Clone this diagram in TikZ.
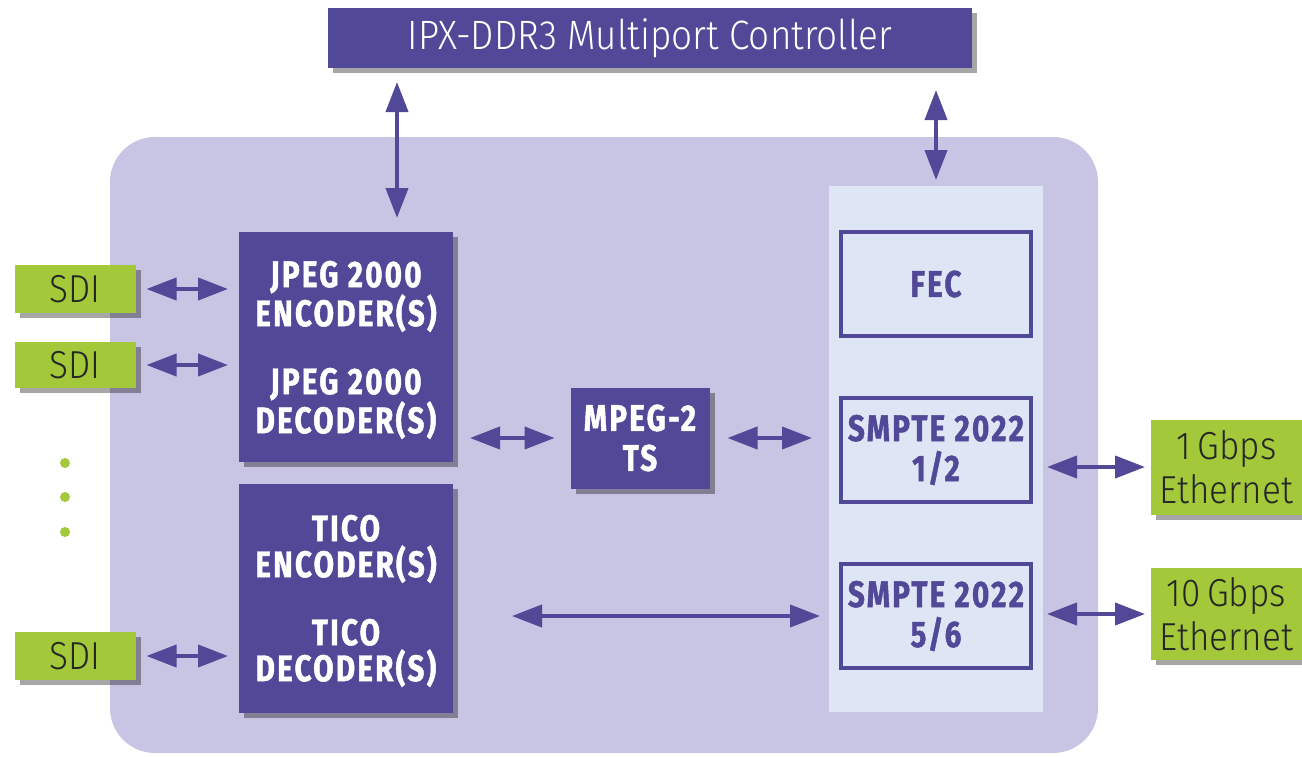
\documentclass[tikz,border=0pt]{standalone}
\usepackage{fontspec}
\usetikzlibrary{arrows.meta,shadows}
\newfontfamily\blockfont{Fira Sans Bold}[FakeStretch=0.8, FakeBold=1.2, LetterSpace=6]
\newfontfamily\thinfont{Fira Sans Light}[FakeStretch=0.9]
\definecolor{ipxpurple}{RGB}{81,72,152}
\definecolor{boardlilac}{RGB}{200,196,228}
\definecolor{panelblue}{RGB}{222,230,246}
\definecolor{portgreen}{RGB}{163,200,58}

\tikzset{
  every node/.style={outer sep=0pt, inner sep=0pt},
  boxshadow/.style={drop shadow={shadow xshift=5pt, shadow yshift=-5pt, fill=black, opacity=0.35}},
  core/.style={fill=ipxpurple, text=white, align=center, boxshadow,
    font=\blockfont\fontsize{37}{36}\selectfont},
  frame/.style={draw=ipxpurple, line width=3.5pt, text=ipxpurple, align=center,
    minimum width=190pt, minimum height=104pt,
    font=\blockfont\fontsize{37}{40}\selectfont},
  port/.style={fill=portgreen, text=black!85, align=center, boxshadow,
    font=\thinfont\fontsize{39}{44}\selectfont},
  link/.style={ipxpurple, line width=4pt,
    {Triangle[length=30pt,width=22pt]}-{Triangle[length=30pt,width=22pt]},
    shorten <=11pt, shorten >=11pt},
}

\begin{document}
\begin{tikzpicture}[x=1pt, y=-1pt]
  \useasboundingbox (0,0) rectangle (1302,756);

  % board and packet panel
  \node[fill=boardlilac, rounded corners=45pt, minimum width=988pt, minimum height=616pt] (board) at (604,445) {};
  \node[fill=panelblue, minimum width=214pt, minimum height=526pt] (panel) at (936,449) {};

  % memory controller
  \node[fill=ipxpurple, text=white, boxshadow, minimum width=644pt, minimum height=60pt,
    font=\thinfont\fontsize{41}{42}\selectfont] (ctrl) at (650,38) {IPX-DDR3 Multiport Controller};

  % codecs
  \node[core, minimum width=214pt, minimum height=230pt, text depth=-4pt] (jpeg) at (346,347)
    {JPEG 2000\\ENCODER(S)\\[32pt]JPEG 2000\\DECODER(S)};
  \node[core, minimum width=214pt, minimum height=229pt, text depth=-4pt] (tico) at (346,598)
    {TICO\\ENCODER(S)\\[32pt]TICO\\DECODER(S)};
  \node[core, minimum width=139pt, minimum height=101pt, font=\blockfont\fontsize{37}{40}\selectfont] (mpeg) at (640,438)
    {MPEG-2\\TS};

  % protocol blocks
  \node[frame] (fec) at (936,284) {FEC};
  \node[frame] (smpteA) at (936,450) {SMPTE 2022\\1/2};
  \node[frame] (smpteB) at (936,616) {SMPTE 2022\\5/6};

  % ports
  \node[port, minimum width=121pt, minimum height=48pt] (sdiA) at (75,289) {SDI};
  \node[port, minimum width=121pt, minimum height=46pt] (sdiB) at (75,365) {SDI};
  \node[port, minimum width=121pt, minimum height=48pt] (sdiC) at (75,656) {SDI};
  \node[port, minimum width=151pt, minimum height=95pt] (ethA) at (1226.5,467) {1\,Gbps\\Ethernet};
  \node[port, minimum width=151pt, minimum height=92pt] (ethB) at (1226.5,614) {10\,Gbps\\Ethernet};
  \foreach \y in {463,497,532}
    \fill[portgreen] (65,\y) circle (5pt);

  % links
  \coordinate (tapA) at (397,0);
  \draw[link, shorten <=14pt, shorten >=14pt] (ctrl.south -| tapA) -- (jpeg.north -| tapA);
  \draw[link, shorten <=22pt, shorten >=6pt] (ctrl.south -| panel.north) -- (panel.north);
  \draw[link] (sdiA.east) -- (sdiA.east -| jpeg.west);
  \draw[link] (sdiB.east) -- (sdiB.east -| jpeg.west);
  \draw[link] (sdiC.east) -- (sdiC.east -| tico.west);
  \draw[link, shorten <=17pt, shorten >=16pt] (mpeg.west -| jpeg.east) -- (mpeg.west);
  \draw[link, shorten <=18pt, shorten >=17pt] (mpeg.east) -- (mpeg.east -| panel.west);
  \draw[link, shorten <=59pt, shorten >=9pt] (smpteB.west -| tico.east) -- (smpteB.west -| panel.west);
  \draw[link, shorten <=4pt, shorten >=6pt] (ethA.west -| panel.east) -- (ethA.west);
  \draw[link, shorten <=4pt, shorten >=6pt] (ethB.west -| panel.east) -- (ethB.west);
\end{tikzpicture}
\end{document}
